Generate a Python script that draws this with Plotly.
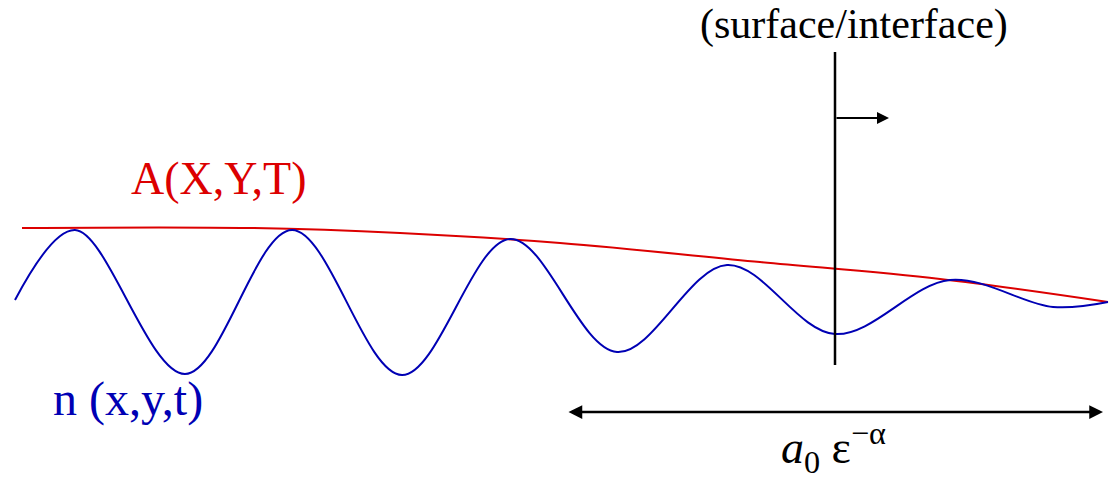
import plotly.graph_objects as go

# Wave n(x,y,t): positions of its start, crests, troughs and end
wave_x = [15, 75, 185, 292, 402, 510, 617, 727, 835, 950, 1053, 1108]
wave_h = [179, 249, 105, 249, 104, 240, 127, 214, 145, 199, 172, 177]

# Slowly varying envelope A(X,Y,T)
env_x = [22, 250, 400, 560, 760, 940, 1108]
env_h = [251, 251, 246, 236, 217, 200, 177]

# Surface / interface marker and the length scale bar
surface_x = 835
surface_span = [427, 114]
motion_h = 361
motion_end_x = 889
scale_h = 67
scale_span = [567, 1103]

RED = "#dc0000"
BLUE = "#0000b4"
SERIF = "Liberation Serif"

fig = go.Figure()

fig.add_trace(go.Scatter(
    x=env_x, y=env_h, mode="lines",
    line=dict(color=RED, width=2, shape="spline"),
    hoverinfo="skip", showlegend=False,
))
fig.add_trace(go.Scatter(
    x=wave_x, y=wave_h, mode="lines",
    line=dict(color=BLUE, width=2, shape="spline", smoothing=1.0),
    hoverinfo="skip", showlegend=False,
))

# Vertical surface line
fig.add_shape(type="line", x0=surface_x, x1=surface_x,
              y0=surface_span[0], y1=surface_span[1],
              line=dict(color="black", width=2.5))

# Arrow showing the direction the surface moves
fig.add_annotation(x=motion_end_x, y=motion_h, ax=surface_x, ay=motion_h,
                   xref="x", yref="y", axref="x", ayref="y",
                   showarrow=True, arrowhead=2, arrowsize=1.2, arrowwidth=2,
                   arrowcolor="black", text="")

# Double-headed scale arrow
fig.add_annotation(x=scale_span[1], y=scale_h, ax=scale_span[0], ay=scale_h,
                   xref="x", yref="y", axref="x", ayref="y",
                   showarrow=True, arrowhead=2, startarrowhead=2,
                   arrowside="end+start", arrowsize=1.1, arrowwidth=2.5,
                   arrowcolor="black", text="")

labels = [
    dict(x=854, y=455, text="(surface/interface)", color="black", size=42),
    dict(x=218, y=301, text="A(X,Y,T)", color=RED, size=46),
    dict(x=128, y=80, text="n (x,y,t)", color=BLUE, size=48),
    dict(x=833, y=32, text="<i>a</i><sub>0</sub> ε<sup>−α</sup>", color="black", size=46),
]
for lab in labels:
    fig.add_annotation(x=lab["x"], y=lab["y"], xref="x", yref="y",
                       text=lab["text"], showarrow=False,
                       font=dict(family=SERIF, size=lab["size"], color=lab["color"]),
                       xanchor="center", yanchor="middle")

fig.update_xaxes(range=[0, 1112], visible=False, fixedrange=True)
fig.update_yaxes(range=[0, 479], visible=False, fixedrange=True)
fig.update_layout(
    width=1112, height=479,
    margin=dict(l=0, r=0, t=0, b=0),
    paper_bgcolor="white", plot_bgcolor="white",
)

fig.write_html("out.html", include_plotlyjs=True, config={"displayModeBar": False})
